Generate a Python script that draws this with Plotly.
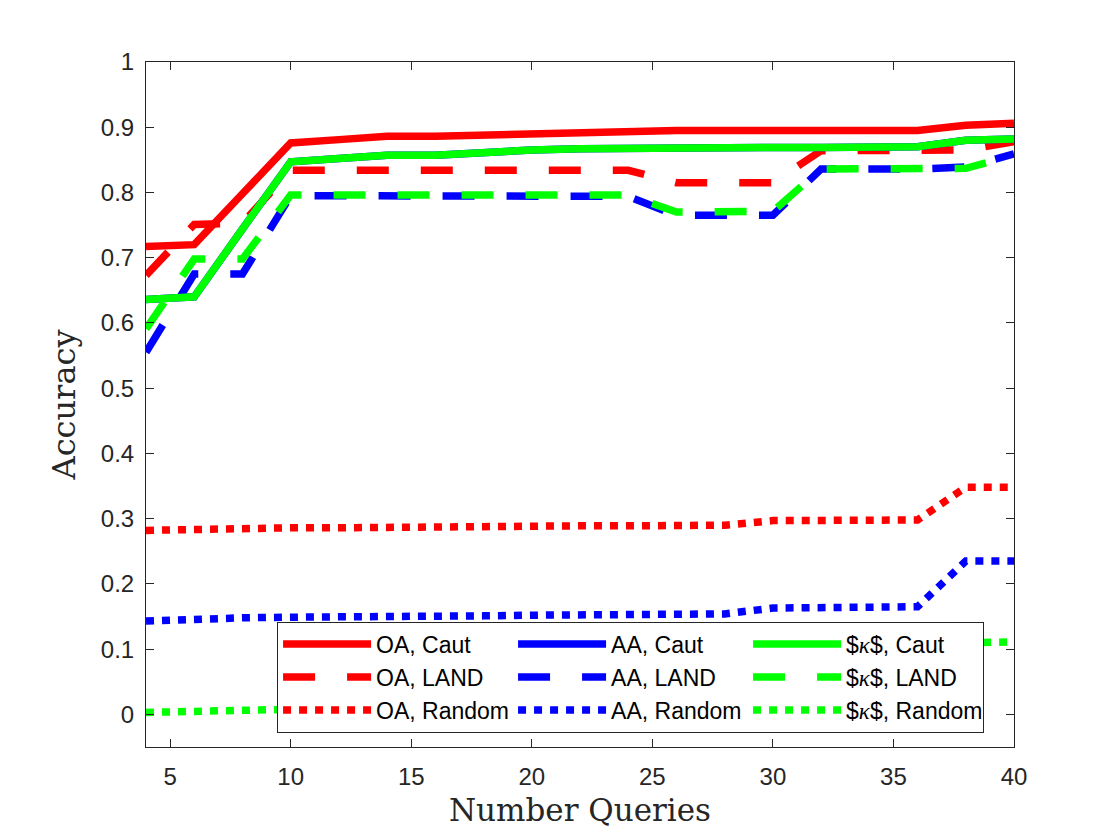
import plotly.graph_objects as go

queries = [4, 6, 8, 10, 12, 14, 16, 18, 20, 22, 24, 26, 28, 30, 32, 34, 36, 38, 40]

oa_caut = [0.717, 0.720, 0.798, 0.876, 0.881, 0.886, 0.886, 0.888, 0.891, 0.893, 0.894,
           0.895, 0.895, 0.895, 0.895, 0.895, 0.895, 0.903, 0.906]
oa_land = [0.673, 0.751, 0.753, 0.834, 0.834, 0.834, 0.834, 0.834, 0.834, 0.834, 0.834,
           0.815, 0.815, 0.815, 0.864, 0.864, 0.864, 0.865, 0.878]
oa_random = [0.282, 0.284, 0.285, 0.286, 0.286, 0.287, 0.287, 0.288, 0.288, 0.289, 0.289,
             0.290, 0.290, 0.297, 0.297, 0.298, 0.298, 0.348, 0.348]

aa_caut = [0.636, 0.640, 0.744, 0.847, 0.852, 0.857, 0.857, 0.862, 0.865, 0.867, 0.868,
           0.869, 0.869, 0.869, 0.869, 0.869, 0.870, 0.880, 0.882]
aa_land = [0.555, 0.675, 0.675, 0.795, 0.795, 0.795, 0.795, 0.795, 0.795, 0.795, 0.794,
           0.765, 0.765, 0.765, 0.836, 0.836, 0.836, 0.839, 0.859]
aa_random = [0.143, 0.146, 0.148, 0.149, 0.149, 0.150, 0.150, 0.151, 0.152, 0.152, 0.153,
             0.153, 0.154, 0.163, 0.164, 0.164, 0.165, 0.235, 0.235]

kappa_caut = [0.636, 0.640, 0.744, 0.847, 0.852, 0.857, 0.857, 0.862, 0.865, 0.867, 0.868,
              0.869, 0.869, 0.869, 0.869, 0.869, 0.870, 0.880, 0.882]
kappa_land = [0.591, 0.698, 0.698, 0.796, 0.796, 0.796, 0.796, 0.796, 0.796, 0.796, 0.796,
              0.770, 0.771, 0.771, 0.836, 0.836, 0.836, 0.837, 0.857]
kappa_random = [0.003, 0.005, 0.007, 0.009, 0.010, 0.011, 0.012, 0.013, 0.014, 0.015, 0.016,
                0.017, 0.018, 0.019, 0.020, 0.021, 0.022, 0.110, 0.111]

x_ticks = [5, 10, 15, 20, 25, 30, 35, 40]
y_ticks = [0, 0.1, 0.2, 0.3, 0.4, 0.5, 0.6, 0.7, 0.8, 0.9, 1]

red, blue, green = "#ff0000", "#0000ff", "#00ff00"
dashes = {"Caut": "solid", "LAND": "32px,32px", "Random": "8px,8px"}
kappa = '$<span style="font-family:Liberation Serif"><i>κ</i></span>$'

# drawing order as in the original (OA, AA, kappa); legend laid out row by row
series = [
    ("OA", "Caut", oa_caut, red, 1),
    ("OA", "LAND", oa_land, red, 4),
    ("OA", "Random", oa_random, red, 7),
    ("AA", "Caut", aa_caut, blue, 2),
    ("AA", "LAND", aa_land, blue, 5),
    ("AA", "Random", aa_random, blue, 8),
    (kappa, "Caut", kappa_caut, green, 3),
    (kappa, "LAND", kappa_land, green, 6),
    (kappa, "Random", kappa_random, green, 9),
]

fig = go.Figure()
for metric, method, vals, color, rank in series:
    fig.add_trace(
        go.Scatter(
            x=queries,
            y=vals,
            mode="lines",
            name=f"{metric}, {method}",
            legendrank=rank,
            line=dict(color=color, width=7.5, dash=dashes[method]),
        )
    )

axis_style = dict(
    showline=True,
    linecolor="#262626",
    linewidth=1,
    mirror="ticks",
    ticks="inside",
    ticklen=8,
    tickcolor="#262626",
    showgrid=False,
    zeroline=False,
    tickfont=dict(family="Liberation Sans", size=24, color="#262626"),
)

fig.update_xaxes(
    range=[4, 40],
    tickvals=x_ticks,
    ticklabelstandoff=8,
    title=dict(text="Number Queries", standoff=10,
               font=dict(family="DejaVu Serif", size=31, color="#262626")),
    **axis_style,
)
fig.update_yaxes(
    range=[-0.05, 1],
    tickvals=y_ticks,
    ticklabelstandoff=6,
    title=dict(text="Accuracy", standoff=15,
               font=dict(family="DejaVu Serif", size=32, color="#262626")),
    **axis_style,
)

# the page body adds an 8px offset, so the margins are shifted to compensate
fig.update_layout(
    width=1120,
    height=840,
    margin=dict(l=138, r=114, t=54, b=101),
    paper_bgcolor="white",
    plot_bgcolor="white",
    legend=dict(
        orientation="h",
        x=0.151,
        y=0.183,
        xanchor="left",
        yanchor="top",
        entrywidth=132,
        entrywidthmode="pixels",
        itemwidth=88,
        bgcolor="white",
        bordercolor="#262626",
        borderwidth=1,
        font=dict(family="Liberation Sans", size=23, color="black"),
        traceorder="normal",
    ),
)

fig.write_html("out.html")
